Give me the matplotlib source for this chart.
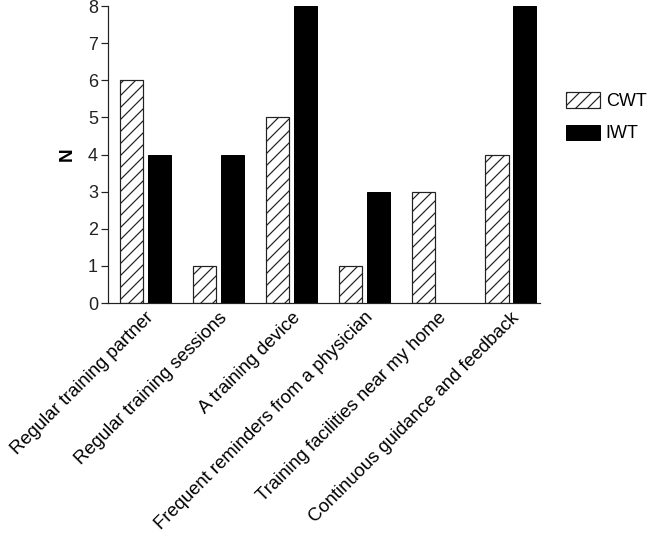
import matplotlib.pyplot as plt
import numpy as np

plt.rcParams['font.family'] = ['Liberation Sans', 'DejaVu Sans']
plt.rcParams['hatch.linewidth'] = 1.2

categories = ["Regular training partner", "Regular training sessions", "A training device",
              "Frequent reminders from a physician", "Training facilities near my home",
              "Continuous guidance and feedback"]
cwt = [6, 1, 5, 1, 3, 4]
iwt = [4, 4, 8, 3, 0, 8]

x = np.arange(len(categories))
w = 0.315
off = 0.19

fig = plt.figure(figsize=(650 / 72, 547 / 72), dpi=72)
ax = fig.add_axes([0.166, 0.446, 0.665, 0.543])

ax.bar(x - off, cwt, w, color='white', edgecolor='#222222', hatch='//', linewidth=1.2, label='CWT')
ax.bar(x + off, iwt, w, color='black', edgecolor='black', linewidth=1.0, label='IWT')

ax.set_ylim(0, 8)
ax.set_xlim(-0.51, 5.40)
ax.set_yticks(range(0, 9))
ax.tick_params(axis='y', labelsize=18, length=7, width=1.2, colors='#222222', pad=3)
ax.set_xticks(x)
ax.set_xticklabels(categories, rotation=45, ha='right', rotation_mode='anchor', fontsize=18.5)
ax.tick_params(axis='x', length=0, pad=6)
ax.set_ylabel('N', fontsize=19, fontweight='bold', labelpad=12)

ax.spines['top'].set_visible(False)
ax.spines['right'].set_visible(False)
for s in ['left', 'bottom']:
    ax.spines[s].set_linewidth(1.2)
    ax.spines[s].set_color('#222222')

ax.legend(loc='upper left', bbox_to_anchor=(1.06, 0.71), frameon=False, fontsize=18,
          handlelength=1.9, handleheight=0.95, labelspacing=0.8, borderpad=0,
          borderaxespad=0, handletextpad=0.3)

fig.savefig('out.png', dpi=72)
